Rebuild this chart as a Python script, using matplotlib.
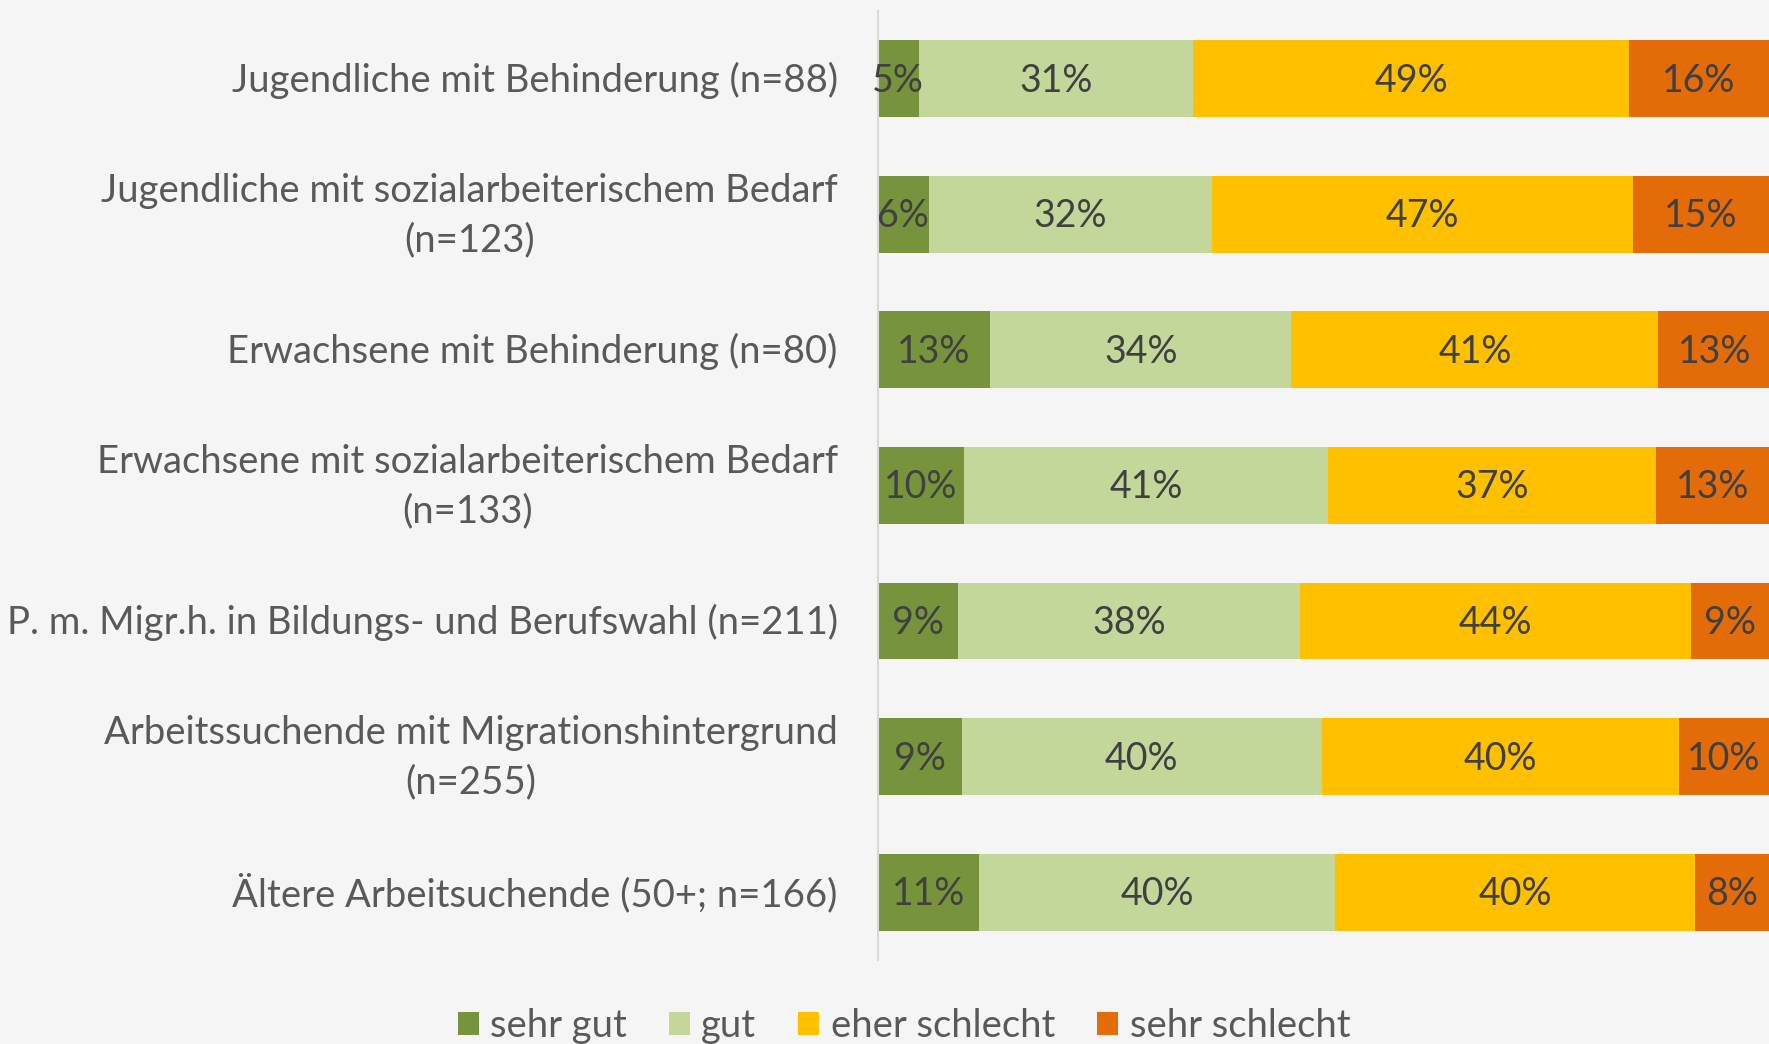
import numpy as np
import matplotlib
matplotlib.use("Agg")
import matplotlib.pyplot as plt
from matplotlib.transforms import blended_transform_factory

plt.rcParams['font.family'] = ['Lato', 'DejaVu Sans']

categories = [
    "Jugendliche mit Behinderung (n=88)",
    "Jugendliche mit sozialarbeiterischem Bedarf\n(n=123)",
    "Erwachsene mit Behinderung (n=80)",
    "Erwachsene mit sozialarbeiterischem Bedarf\n(n=133)",
    "P. m. Migr.h. in Bildungs- und Berufswahl (n=211)",
    "Arbeitssuchende mit Migrationshintergrund\n(n=255)",
    "Ältere Arbeitsuchende (50+; n=166)",
]
series_names = ["sehr gut", "gut", "eher schlecht", "sehr schlecht"]
sehr_gut = [4.6, 5.7, 12.6, 9.7, 9.0, 9.4, 11.4]
gut = [30.8, 31.8, 33.8, 40.8, 38.4, 40.4, 39.9]
eher_schlecht = [48.9, 47.2, 41.2, 36.8, 43.8, 40.1, 40.4]
sehr_schlecht = [15.7, 15.3, 12.6, 12.7, 8.8, 10.1, 8.3]
colors = ["#77933C", "#C4D79B", "#FFC000", "#E36C09"]

bg = "#F5F5F5"
fig = plt.figure(figsize=(17.69, 10.44), dpi=100, facecolor=bg)
ax = fig.add_axes([0.4962, 0.0805, 0.5038, 0.909])
ax.set_facecolor(bg)

y = np.arange(len(categories))
left = np.zeros(len(categories))
for name, vals, col in zip(series_names, [sehr_gut, gut, eher_schlecht, sehr_schlecht], colors):
    vals = np.array(vals)
    ax.barh(y, vals, left=left, height=0.567, color=col, label=name)
    for yi, l, v in zip(y, left, vals):
        ax.text(l + v / 2, yi + 0.015, f"{round(v):.0f}%", ha="center", va="center",
                fontsize=27, color="#404040")
    left += vals

ax.set_xlim(0, 100)
ax.set_ylim(len(categories) - 0.5, -0.5)
ax.set_yticks([])
ax.set_xticks([])

# category labels drawn as text so multi-line ones centre on the bar
trans = blended_transform_factory(ax.transAxes, ax.transData)
for yi, cat in zip(y, categories):
    ax.text(-0.045, yi + 0.01, cat, transform=trans, ha="right", va="center",
            multialignment="center", linespacing=1.45, fontsize=27.5, color="#595959")

for s in ["top", "right", "bottom"]:
    ax.spines[s].set_visible(False)
ax.spines["left"].set_color("#D9D9D9")
ax.spines["left"].set_linewidth(1.5)

fig.legend(loc="center", bbox_to_anchor=(0.511, 0.017), ncol=4, frameon=False,
           fontsize=27.5, handlelength=0.55, handleheight=0.55, handletextpad=0.3,
           columnspacing=1.1, labelcolor="#595959")

fig.savefig("out.png", dpi=100, facecolor=bg)
